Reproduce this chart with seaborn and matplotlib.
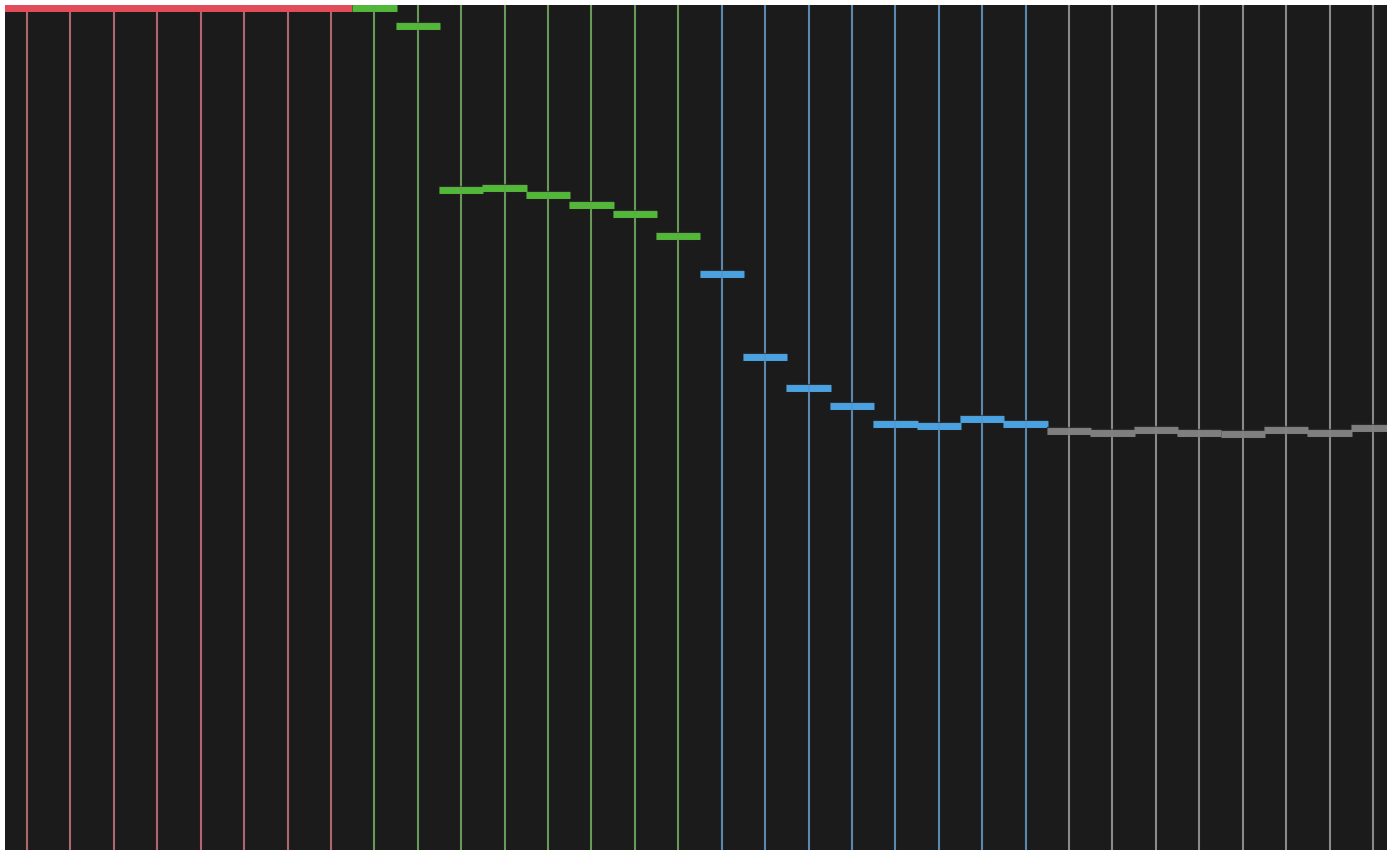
import numpy as np
import pandas as pd
import matplotlib
matplotlib.use("Agg")
import matplotlib.pyplot as plt
import matplotlib.patheffects as pe
import seaborn as sns

# values (0 = bottom edge, 100 = top of plot)
red_vals = [99.6, 99.6, 99.6, 99.6, 99.6, 99.6, 99.6, 99.6]
green_vals = [99.6, 97.5, 78.1, 78.3, 77.5, 76.3, 75.3, 72.7]
blue_vals = [68.2, 58.3, 54.7, 52.5, 50.4, 50.2, 51.0, 50.4]
gray_vals = [49.6, 49.3, 49.7, 49.3, 49.2, 49.7, 49.4, 49.9]
groups = ["red", "green", "blue", "gray"]

seg_colors = {"red": "#e24c5a", "green": "#53b83a", "blue": "#4aa3e0", "gray": "#7f7f7f"}
line_colors = {"red": "#b06570", "green": "#679a58", "blue": "#5a88b0", "gray": "#8a8a8a"}

vals = red_vals + green_vals + blue_vals + gray_vals
df = pd.DataFrame({
    "idx": np.arange(len(vals)),
    "value": vals,
    "group": np.repeat(groups, 8),
})

sns.set_theme(style="dark", rc={"axes.facecolor": "#1b1b1b", "figure.facecolor": "white"})

fig = plt.figure(figsize=(13.87, 8.5), dpi=100)
# plot runs a little past the right edge of the picture
ax = fig.add_axes([5.3 / 1387, 0.0, 1389.4 / 1387, 845 / 850])
ax.set_xlim(-0.5, len(vals) - 0.5)
ax.set_ylim(0, 100)

# vertical guide lines per column
for g, sub in df.groupby("group", sort=False):
    ax.vlines(sub["idx"], 0, 100, colors=line_colors[g], lw=1.5, zorder=2)

# short level segments, one column wide (tiny overlap so neighbours join cleanly)
half = 0.51
for g, sub in df.groupby("group", sort=False):
    if g == "red":
        ax.hlines(sub["value"], sub["idx"] - half, sub["idx"] + half, colors=seg_colors[g],
                  lw=5, zorder=3, capstyle="butt", antialiased=False)
    else:
        ax.hlines(sub["value"], sub["idx"] - half, sub["idx"] + half, colors=seg_colors[g],
                  lw=5, zorder=3, capstyle="butt",
                  path_effects=[pe.Stroke(linewidth=6, foreground="#2c2c2c"), pe.Normal()])

# guide lines show faintly through the segments (not the red top row)
for g, sub in df.groupby("group", sort=False):
    if g == "red":
        continue
    ax.vlines(sub["idx"], 0, 100, colors=line_colors[g], lw=1.2, alpha=0.45, zorder=4)

ax.set_xticks([])
ax.set_yticks([])
ax.grid(False)
for s in ax.spines.values():
    s.set_visible(False)

fig.savefig("out.png", dpi=100)
